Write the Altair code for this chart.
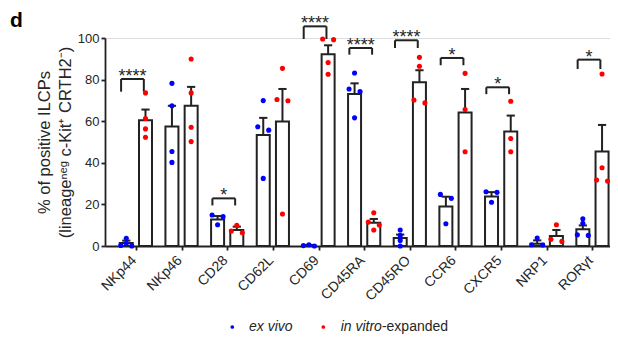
import altair as alt
import pandas as pd

markers = ["NKp44", "NKp46", "CD28", "CD62L", "CD69", "CD45RA", "CD45RO",
           "CCR6", "CXCR5", "NRP1", "RORγt"]
series = ["ex vivo", "in vitro-expanded"]

ex_vivo_mean = [1.4, 57.4, 12.8, 53.4, 0.3, 73.1, 3.8, 19.0, 23.8, 1.1, 8.0]
ex_vivo_sem = [1.2, 10.0, 1.6, 8.2, 0.2, 5.1, 1.7, 4.7, 2.1, 1.6, 1.9]
in_vitro_mean = [60.5, 67.4, 7.7, 59.8, 92.2, 11.2, 78.7, 64.2, 55.0, 4.8, 45.4]
in_vitro_sem = [5.1, 9.1, 1.6, 15.7, 4.3, 1.8, 5.8, 11.3, 7.7, 2.9, 12.8]

ex_vivo_points = [
    [3.7, 1.3, 0.3, 0.0],
    [78.2, 67.4, 45.4, 40.2],
    [14.9, 14.1, 10.2],
    [69.9, 57.3, 55.7, 32.5],
    [0.6, 0.2, 0.0],
    [83.2, 75.5, 74.2, 61.6],
    [7.7, 5.1, 2.7, 0.0],
    [24.8, 22.9, 10.7],
    [26.1, 25.8, 21.0],
    [3.8, 0.6, 0.5],
    [13.1, 10.9, 5.4, 5.1],
]
in_vitro_points = [
    [73.6, 61.3, 56.3, 52.3],
    [89.9, 73.6, 57.1, 50.2],
    [9.9, 7.2, 6.4],
    [85.4, 70.4, 69.8, 15.4],
    [99.5, 99.2, 88.2, 82.6],
    [16.0, 11.5, 10.1, 7.7],
    [90.7, 86.4, 70.2, 68.8],
    [83.0, 65.6, 45.3],
    [69.6, 51.7, 45.3],
    [10.2, 3.2, 2.2],
    [82.7, 37.6, 31.7, 31.2],
]

sig_markers = ["NKp44", "CD28", "CD69", "CD45RA", "CD45RO", "CCR6", "CXCR5", "RORγt"]
sig_labels = ["****", "*", "****", "****", "****", "*", "*", "*"]
sig_top = [80.3, 22.9, 105.6, 95.2, 98.9, 90.4, 76.3, 89.6]
sig_leg = [74.2, 19.5, 99.5, 92.0, 95.2, 86.9, 73.0, 85.1]

panel_label = ["d"]
y_title = ["% of positive ILCPs", "(lineageⁿᵉᵍ c-Kit⁺ CRTH2⁻)"]

# ---- layout constants ----
FONT = "Liberation Sans"
INK = "#222222"
TXT = "#262626"
COLORS = ["#0000ff", "#ff0000"]
W, H = 505, 208
X_DOMAIN = [-0.567, 10.275]
STEP_PX = W / (X_DOMAIN[1] - X_DOMAIN[0])
PX_PER_UNIT_Y = H / 100.0
PAIR = 9.8 / STEP_PX
DOT_DX = 5.6 / STEP_PX
ROW_UNITS = 4.3 / PX_PER_UNIT_Y
CAP = 4.2 / STEP_PX
BR_HALF = 11.6 / STEP_PX
BR_SHIFT = -3.5 / STEP_PX


def spread(values):
    order = sorted(range(len(values)), key=lambda k: -values[k])
    rows = []
    for k in order:
        if rows and values[rows[-1][-1]] - values[k] < ROW_UNITS:
            rows[-1].append(k)
        else:
            rows.append([k])
    offs = [0.0] * len(values)
    for row in rows:
        n = len(row)
        seq = [0] if n % 2 else []
        j = 1
        while len(seq) < n:
            seq += [-j, j]
            j += 1
        for k, s in zip(row, seq):
            offs[k] = s * DOT_DX
    return offs


bar_rows, dot_rows = [], []
for i, m in enumerate(markers):
    for s_idx, (means, sems, pts) in enumerate(
        ((ex_vivo_mean, ex_vivo_sem, ex_vivo_points),
         (in_vitro_mean, in_vitro_sem, in_vitro_points))):
        pos = i + (-PAIR if s_idx == 0 else PAIR)
        bar_rows.append(dict(marker=m, series=series[s_idx], pos=pos,
                             mean=means[i], top=means[i] + sems[i],
                             cap_lo=pos - CAP, cap_hi=pos + CAP))
        for v, o in zip(pts[i], spread(pts[i])):
            dot_rows.append(dict(marker=m, series=series[s_idx],
                                 pos=pos + o, value=v))
bars_df = pd.DataFrame(bar_rows)
dots_df = pd.DataFrame(dot_rows)

br_rows, leg_rows = [], []
for m, lab, top, leg in zip(sig_markers, sig_labels, sig_top, sig_leg):
    c = markers.index(m) + BR_SHIFT
    br_rows.append(dict(c=c, lo=c - BR_HALF, hi=c + BR_HALF, top=top, label=lab))
    leg_rows.append(dict(xp=c - BR_HALF, top=top, leg=leg))
    leg_rows.append(dict(xp=c + BR_HALF, top=top, leg=leg))
br_df = pd.DataFrame(br_rows)
leg_df = pd.DataFrame(leg_rows)

label_expr = "[" + ",".join("'%s'" % m for m in markers) + "][datum.value]"
x_scale = alt.Scale(domain=X_DOMAIN, nice=False, zero=False)
y_scale = alt.Scale(domain=[0, 100], nice=False)
x_axis = alt.Axis(values=list(range(len(markers))), labelExpr=label_expr,
                  labelAngle=-45, labelAlign="right", labelBaseline="middle",
                  labelPadding=8, labelOffset=-2, labelFontSize=14, labelColor=TXT,
                  labelOverlap=False, labelBound=False, labelFlush=False,
                  tickSize=4, tickWidth=1.8, tickColor=INK,
                  domainWidth=1.8, domainColor=INK, grid=False, title=None)
y_axis = alt.Axis(values=[0, 20, 40, 60, 80, 100], labelFontSize=13,
                  labelColor=TXT, labelPadding=2, tickSize=4, tickWidth=1.8,
                  tickColor=INK, domainWidth=1.8, domainColor=INK, grid=False,
                  title=y_title, titleFontSize=16.5, titleFontWeight="normal",
                  titleColor=TXT, titleLineHeight=21, titlePadding=4)


def X(field):
    return alt.X(field + ":Q", scale=x_scale, axis=x_axis)


def Y(field):
    return alt.Y(field + ":Q", scale=y_scale, axis=y_axis)


bars = alt.Chart(bars_df).mark_bar(
    size=13, fill="white", stroke=INK, strokeWidth=2, orient="vertical"
).encode(x=X("pos"), y=Y("mean"), y2=alt.datum(0))

err = alt.Chart(bars_df).mark_rule(color=INK, strokeWidth=2).encode(
    x=X("pos"), y=Y("mean"), y2="top:Q")
caps = alt.Chart(bars_df).mark_rule(color=INK, strokeWidth=2).encode(
    x=X("cap_lo"), x2="cap_hi:Q", y=Y("top"))

br_h = alt.Chart(br_df).mark_rule(color=INK, strokeWidth=2).encode(
    x=X("lo"), x2="hi:Q", y=Y("top"))
br_v = alt.Chart(leg_df).mark_rule(color=INK, strokeWidth=2).encode(
    x=X("xp"), y=Y("top"), y2="leg:Q")
stars = alt.Chart(br_df).mark_text(
    font=FONT, fontSize=18, color=TXT, baseline="alphabetic", align="center", dy=3
).encode(x=X("c"), y=Y("top"), text="label:N")

dots = alt.Chart(dots_df).mark_point(
    filled=True, size=26, opacity=1, shape="circle"
).encode(x=X("pos"), y=Y("value"),
         color=alt.Color("series:N", scale=alt.Scale(domain=series, range=COLORS),
                         legend=None))

dlab = alt.Chart(pd.DataFrame({"t": panel_label})).mark_text(
    font=FONT, fontSize=21, fontWeight="bold", color="black",
    align="left", baseline="alphabetic"
).encode(x=alt.value(-95), y=alt.value(-11), text="t:N")

LEG_Y = 289
leg_pts_df = pd.DataFrame({"series": series, "px": [127.3, 218.3]})
leg_pts = alt.Chart(leg_pts_df).mark_point(
    filled=True, size=14, opacity=1, shape="circle"
).encode(x=alt.X("px:Q", scale=None), y=alt.value(LEG_Y),
         color=alt.Color("series:N", scale=alt.Scale(domain=series, range=COLORS),
                         legend=None))

leg_txt_df = pd.DataFrame({
    "t": ["ex vivo", "in vitro", "-expanded"],
    "px": [144.0, 276.9, 276.9],
    "al": ["left", "right", "left"],
    "st": ["italic", "italic", "normal"],
})
leg_txt = []
for _, r in leg_txt_df.iterrows():
    leg_txt.append(
        alt.Chart(pd.DataFrame([r])).mark_text(
            font=FONT, fontSize=14, color=TXT, align=r["al"], fontStyle=r["st"],
            baseline="middle"
        ).encode(x=alt.X("px:Q", scale=None), y=alt.value(LEG_Y), text="t:N")
    )

chart = alt.layer(bars, err, caps, br_h, br_v, stars, dots, dlab, leg_pts, *leg_txt).properties(
    width=W, height=H,
    autosize=alt.AutoSizeParams(type="none"),
    padding={"left": 97, "top": 30, "right": 0, "bottom": 92},
).configure_view(stroke=None).configure(font=FONT)

chart.save("out.html", embed_options={"renderer": "svg", "actions": False})
